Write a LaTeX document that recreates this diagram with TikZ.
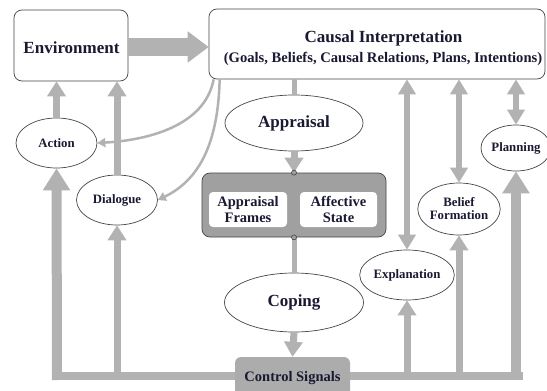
\documentclass[tikz,border=0pt]{standalone}
\usepackage{fontspec}
\setmainfont{Liberation Serif}
\usetikzlibrary{arrows.meta,shapes.geometric,calc}
\definecolor{agray}{RGB}{178,178,178}
\definecolor{fgray}{RGB}{160,160,160}
\definecolor{cgray}{RGB}{172,172,172}
\definecolor{edgec}{RGB}{70,70,70}
\definecolor{ink}{RGB}{25,25,50}
\newcommand\fsBig{\fontsize{17}{20}\selectfont\bfseries}
\newcommand\fsSub{\fontsize{14.6}{17}\selectfont\bfseries}
\newcommand\fsMid{\fontsize{14.5}{16.5}\selectfont\bfseries}
\newcommand\fsSm{\fontsize{12.8}{14}\selectfont\bfseries}
\tikzset{
  boxnode/.style={draw=edgec, line width=0.7pt, rounded corners=8pt, fill=white, inner sep=0pt},
  ellnode/.style={ellipse, draw=edgec, line width=0.7pt, fill=white, inner sep=0pt, text=ink},
  txt/.style={text=ink, inner sep=0pt},
  garrow/.style={draw=agray, line width=7pt, -{Triangle[width=18pt,length=15pt]}},
  gbig/.style={draw=agray, line width=10pt, -{Triangle[width=26pt,length=22pt]}},
  gdouble/.style={draw=agray, line width=6pt, {Triangle[width=17pt,length=15pt]}-{Triangle[width=17pt,length=15pt]}},
  gline/.style={draw=agray, line width=5pt},
  gbar/.style={draw=agray, line width=8pt},
  thinarrow/.style={draw=agray, line width=2.5pt, -{Triangle[width=9pt,length=8pt]}},
  knob/.style={circle, draw=edgec, fill=fgray, line width=0.6pt, minimum size=5pt, inner sep=0pt}
}
\begin{document}
\begin{tikzpicture}[x=1pt,y=-1pt]
\useasboundingbox (0,0) rectangle (547,391);
\fill[white] (0,0) rectangle (547,391);

% main boxes
\node[boxnode, minimum width=114pt, minimum height=71pt] (env) at (71,45.5) {};
\node[txt, anchor=base, font=\fsBig] (envt) at (71.5,53) {Environment};
\node[boxnode, minimum width=336pt, minimum height=70pt] (causal) at (377,44) {};
\node[txt, anchor=base, font=\fsBig] (ct1) at (383.5,42) {Causal Interpretation};
\node[txt, anchor=base, font=\fsSub] (ct2) at (383,62) {(Goals, Beliefs, Causal Relations, Plans, Intentions)};

% ellipses
\node[ellnode, minimum width=81pt, minimum height=50pt, font=\fsSm] (action) at (56.5,143) {Action};
\node[ellnode, minimum width=81pt, minimum height=50pt, font=\fsSm] (dialogue) at (117,200) {Dialogue};
\node[ellnode, minimum width=138pt, minimum height=56pt, font=\fsBig] (appraisal) at (294,123) {Appraisal};
\node[ellnode, minimum width=139pt, minimum height=59pt, font=\fsBig] (coping) at (294,302.5) {Coping};
\node[ellnode, minimum width=80pt, minimum height=50pt, font=\fsSm] (explanation) at (407,275) {Explanation};
\node[ellnode, minimum width=82pt, minimum height=52pt, font=\fsSm, align=center] (belief) at (459,209) {Belief\\[-1pt]Formation};
\node[ellnode, minimum width=70pt, minimum height=46pt, font=\fsSm] (planning) at (516,148) {Planning};

% appraisal frame
\node[draw=edgec, line width=0.7pt, fill=fgray, rounded corners=8pt, minimum width=184pt, minimum height=64pt, inner sep=0pt] (frame) at (294,205) {};
\node[fill=white, rounded corners=4pt, minimum width=78pt, minimum height=35pt, inner sep=0pt, text=ink, font=\fsMid, align=center] (af) at (248,209.5) {Appraisal\\Frames};
\node[fill=white, rounded corners=4pt, minimum width=77pt, minimum height=35pt, inner sep=0pt, text=ink, font=\fsMid, align=center] (as) at (338.5,209.5) {Affective\\State};

% control signals
\node[fill=cgray, rounded corners=6pt, minimum width=115pt, minimum height=43pt, inner sep=0pt, text=ink, font=\fsMid] (control) at (292.5,378.5) {Control Signals};

% coordinates for the control bus
\coordinate (cl) at (53,376);
\coordinate (clv) at (57,380);
\coordinate (cr) at (523,376);
\coordinate (dv) at (117,376);

% big arrow Environment -> Causal
\draw[draw=agray, line width=18pt, -{Triangle[width=30pt,length=21pt]}] ([yshift=-1.5pt]env.east) -- ([yshift=-1.5pt]env.east -| causal.west);

% up to environment
\draw[garrow] (action.north) -- (action.north |- env.south);
\draw[garrow] (dialogue.north) -- (dialogue.north |- env.south);

% curved arrows from causal interpretation
\draw[thinarrow] ([xshift=5pt]causal.south west) .. controls (205,125) and (150,140) .. (action.east);
\draw[thinarrow] ([xshift=11pt]causal.south west) .. controls (218,150) and (195,182) .. (dialogue.east);

% appraisal chain
\draw[gline] (appraisal.north |- causal.south) -- (appraisal.north);
\draw[garrow] (appraisal.south) -- (frame.north);
\draw[gline] (frame.south) -- (coping.north);
\draw[garrow] (coping.south) -- (control.north);
\node[knob] (k1) at (frame.north) {};
\node[knob] (k2) at (frame.south) {};

% control bus left
\draw[gbar] (control.west |- cl) -- (cl);
\draw[gbig] (clv) -- (action.south);
\draw[garrow] (dv) -- (dialogue.south);

% control bus right
\draw[gbar] (control.east |- cr) -- (cr);
\draw[garrow] (explanation.south |- cr) -- (explanation.south);
\draw[garrow] (belief.south |- cr) -- (belief.south);
\draw[gbig] ([yshift=4pt]planning.south |- cr) -- (planning.south);

% double arrows to causal interpretation
\draw[gdouble] (explanation.north |- causal.south) -- (explanation.north);
\draw[gdouble] (belief.north |- causal.south) -- (belief.north);
\draw[gdouble] (planning.north |- causal.south) -- (planning.north);
\end{tikzpicture}
\end{document}
